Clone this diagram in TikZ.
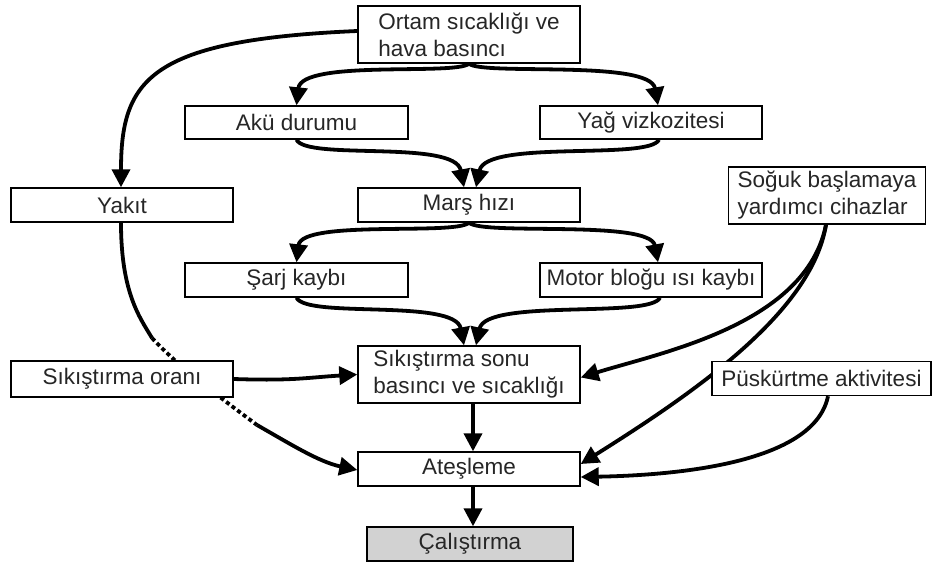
\documentclass[tikz,border=0pt]{standalone}
\usepackage{fontspec}
\setmainfont{Liberation Sans}
\usetikzlibrary{arrows.meta,backgrounds}
\begin{document}
\begin{tikzpicture}[x=1pt,y=-1pt,
  box/.style={draw=black,line width=1.4pt,fill=white,rectangle,inner sep=0pt,
    minimum width=222pt,minimum height=34pt,text=black!85,align=left,
    font=\fontsize{22.5}{27}\selectfont},
  conn/.style={line width=3.8pt,draw=black,-{Triangle[length=18pt,width=18pt]}},
  plain/.style={line width=3.8pt,draw=black},
  dots/.style={line width=3.8pt,draw=black,dash pattern=on 4pt off 3pt}]
\useasboundingbox (0,0) rectangle (932,565);
\node[box,minimum height=57pt] (ortam) at (469,34.5) {Ortam sıcaklığı ve\\hava basıncı};
\node[box,minimum width=223pt,minimum height=33pt] (aku) at (296.5,122.5) {Akü durumu};
\node[box,minimum height=33pt] (yag) at (651,122.5) {Yağ vizkozitesi};
\node[box] (yakit) at (122,205) {Yakıt};
\node[box] (mars) at (469,205) {Marş hızı};
\node[box,minimum width=197pt,minimum height=57pt] (soguk) at (827,195.5) {Soğuk başlamaya\\yardımcı cihazlar};
\node[box,minimum width=223pt] (sarj) at (296.5,280) {Şarj kaybı};
\node[box] (motor) at (651,280) {Motor bloğu ısı kaybı};
\node[box,minimum height=36pt] (oran) at (122,379) {Sıkıştırma oranı};
\node[box,minimum height=57pt] (sonu) at (469,374.5) {Sıkıştırma sonu\\basıncı ve sıcaklığı};
\node[box,minimum width=219pt] (pusk) at (821.5,378.5) {Püskürtme aktivitesi};
\node[box] (ates) at (469,469) {Ateşleme};
\node[box,minimum width=206pt,fill=gray!35] (calis) at (470,544) {Çalıştırma};
\coordinate (d1) at (152,338);
\coordinate (d2) at (257,425);
\begin{pgfonlayer}{background}
\draw[conn] ([yshift=3.5pt]ortam.west) .. controls +(-208,9) and +(0,-108) .. ([xshift=-1pt]yakit.north);
\draw[conn] (ortam.south) .. controls +(-14,12) and +(5,-46) .. (aku.north);
\draw[conn] (ortam.south) .. controls +(14,12) and +(-8,-46) .. ([xshift=7pt]yag.north);
\draw[conn] (aku.south) .. controls +(10,21) and +(-9,-48) .. ([xshift=-5pt]mars.north);
\draw[conn] ([xshift=8pt]yag.south) .. controls +(-10,21) and +(10,-48) .. ([xshift=7pt]mars.north);
\draw[conn] (mars.south) .. controls +(-14,13) and +(5,-43) .. (sarj.north);
\draw[conn] (mars.south) .. controls +(14,13) and +(-8,-43) .. ([xshift=7pt]motor.north);
\draw[conn] (sarj.south) .. controls +(10,21) and +(-9,-47) .. ([xshift=-5pt]sonu.north);
\draw[conn] ([xshift=9pt]motor.south) .. controls +(-10,21) and +(10,-47) .. ([xshift=7pt]sonu.north);
\draw[conn] (oran.east) .. controls +(60,2) and +(-50,3) .. (sonu.west);
\draw[plain] ([xshift=-1pt]yakit.south) .. controls +(0,70) and +(-12,-20) .. (d1);
\draw[dots] (d1) .. controls +(28,30) and +(-40,-30) .. (d2);
\draw[conn] (d2) .. controls +(35,20) and +(-38,-8) .. ([yshift=-1pt]ates.west);
\draw[conn] ([xshift=-1pt]soguk.south) .. controls +(-20,100) and +(80,-25) .. ([yshift=-3pt]sonu.east);
\draw[conn] ([xshift=-1pt]soguk.south) .. controls +(-14,86) and +(118,-74) .. ([yshift=5pt]ates.east);
\draw[conn] ([xshift=6.5pt]pusk.south) .. controls +(-13,64) and +(108,-2) .. ([yshift=-8pt]ates.east);
\draw[conn] ([xshift=4pt]sonu.south) -- ([xshift=4pt]ates.north);
\draw[conn] ([xshift=4pt]ates.south) -- ([xshift=4pt]ates.south |- calis.north);
\end{pgfonlayer}
\end{tikzpicture}
\end{document}
